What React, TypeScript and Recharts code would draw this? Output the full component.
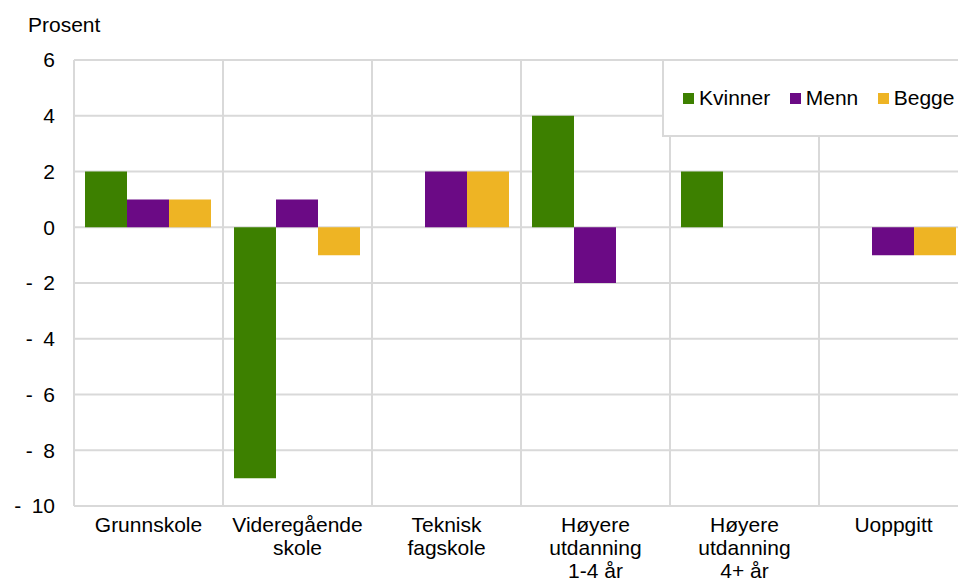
import React from 'react';
import { BarChart, Bar, XAxis, YAxis, CartesianGrid, Legend } from 'recharts';

const categories = ['Grunnskole', 'Videregående skole', 'Teknisk fagskole', 'Høyere utdanning 1-4 år', 'Høyere utdanning 4+ år', 'Uoppgitt'];
const categoryLines = [
  ['Grunnskole'],
  ['Videregående', 'skole'],
  ['Teknisk', 'fagskole'],
  ['Høyere', 'utdanning', '1-4 år'],
  ['Høyere', 'utdanning', '4+ år'],
  ['Uoppgitt'],
];
const kvinner = [2, -9, 0, 4, 2, 0];
const menn = [1, 1, 2, -2, 0, -1];
const begge = [1, -1, 2, 0, 0, -1];
const yTicks = [-10, -8, -6, -4, -2, 0, 2, 4, 6];

const seriesNames = ['Kvinner', 'Menn', 'Begge'];
const seriesColors = ['#3d8000', '#6b0a85', '#eeb424'];

const data = categories.map((c, i) => ({
  name: c,
  Kvinner: kvinner[i],
  Menn: menn[i],
  Begge: begge[i],
}));

const FONT = '"Liberation Sans", Arial, sans-serif';
const FS = 21;

const XTick = (props: any) => {
  const { x, y, payload } = props;
  const idx = categories.indexOf(payload.value);
  const lines = idx >= 0 ? categoryLines[idx] : [String(payload.value)];
  return (
    <text x={x} y={y} textAnchor="middle" fill="#000" fontSize={FS} fontFamily={FONT}>
      {lines.map((l, i) => (
        <tspan key={i} x={x} y={y + 25.5 + i * 23.4}>{l}</tspan>
      ))}
    </text>
  );
};

const fmtY = (v: number) => (v < 0 ? '-\u2002' + Math.abs(v) : String(v));

const LegendBox = () => (
  <div
    style={{
      boxSizing: 'border-box',
      width: 320,
      height: 78,
      border: '2px solid #d9d9d9',
      background: '#fff',
      display: 'flex',
      alignItems: 'center',
      paddingLeft: 19,
      fontFamily: FONT,
      fontSize: FS,
      color: '#000',
    }}
  >
    {seriesNames.map((n, i) => (
      <div key={n} style={{ display: 'flex', alignItems: 'center', marginRight: 19.5 }}>
        <div style={{ width: 11, height: 11, background: seriesColors[i], marginRight: 5 }} />
        <span>{n}</span>
      </div>
    ))}
  </div>
);

const PLOT_LEFT = 74;

export default function App() {
  return (
    <div style={{ position: 'absolute', left: 0, top: 0, width: 958, height: 580, overflow: 'hidden', background: '#fff', fontFamily: FONT }}>
      <BarChart
        width={990}
        height={580}
        data={data}
        margin={{ top: 60, right: 22, bottom: 0, left: 0 }}
        barCategoryGap={11}
        barGap={0}
      >
        <CartesianGrid
          stroke="#d9d9d9"
          strokeWidth={2}
          verticalCoordinatesGenerator={({ offset }: any) =>
            Array.from({ length: categories.length + 1 }, (_, i) => offset.left + (i * offset.width) / categories.length)
          }
        />
        <XAxis
          dataKey="name"
          height={74}
          axisLine={false}
          tickLine={false}
          tickSize={0}
          tickMargin={0}
          interval={0}
          tick={<XTick />}
        />
        <YAxis
          width={PLOT_LEFT}
          domain={[-10, 6]}
          ticks={yTicks}
          interval={0}
          axisLine={false}
          tickLine={false}
          tickSize={0}
          tickMargin={19}
          tickFormatter={fmtY}
          tick={{ fill: '#000', fontSize: FS, fontFamily: FONT }}
          label={{
            content: () => (
              <text x={28} y={32} fill="#000" fontSize={FS} fontFamily={FONT}>Prosent</text>
            ),
          }}
        />
        <Legend
          layout="horizontal"
          verticalAlign="middle"
          align="center"
          content={<LegendBox />}
          wrapperStyle={{ left: 662, top: 59, width: 320, height: 78 }}
        />
        {seriesNames.map((n, i) => (
          <Bar key={n} dataKey={n} fill={seriesColors[i]} isAnimationActive={false} />
        ))}
      </BarChart>
    </div>
  );
}
